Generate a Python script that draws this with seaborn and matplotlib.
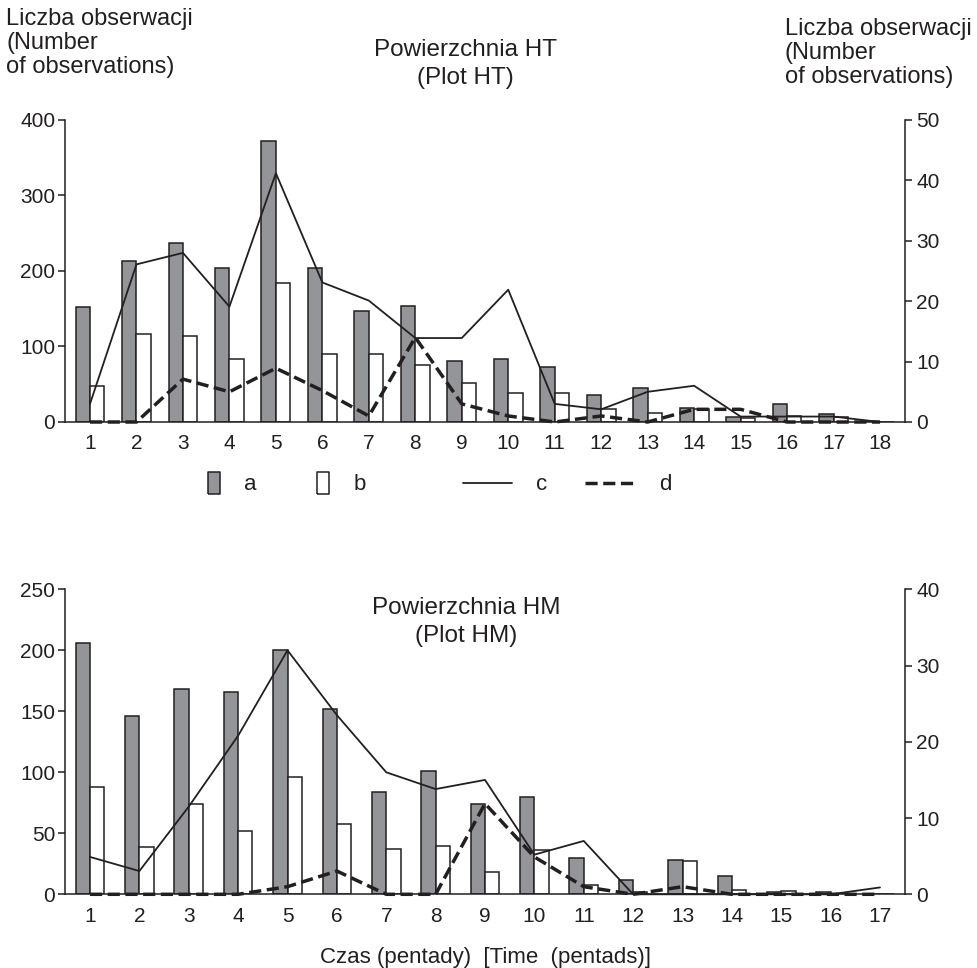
import pandas as pd
import matplotlib.pyplot as plt
import seaborn as sns
from matplotlib.lines import Line2D

# Powierzchnia HT (Plot HT) - pentads 1..18
ht_pentads = list(range(1, 19))
ht_a = [152, 213, 237, 204, 372, 204, 147, 154, 81, 83, 73, 36, 45, 19, 7, 24, 10, 0]
ht_b = [48, 116, 114, 83, 184, 90, 90, 76, 52, 38, 38, 17, 12, 17, 5, 8, 7, 0]
ht_c = [3.0, 26.1, 28.0, 19.1, 41.2, 23.1, 20.1, 13.9, 13.9, 21.9, 3.0, 2.1, 5.0, 6.0, 0.9, 0.9, 0.9, 0]
ht_d = [0, 0, 7.1, 5.0, 8.9, 5.2, 1.0, 14.0, 3.0, 1.0, 0, 1.0, 0, 2.1, 2.1, 0, 0, 0]

# Powierzchnia HM (Plot HM) - pentads 1..17
hm_pentads = list(range(1, 18))
hm_a = [206, 146, 168, 166, 200, 152, 84, 101, 74, 80, 30, 12, 28, 15, 1.6, 1.6, 0]
hm_b = [88, 38.5, 74, 52, 96, 58, 37, 40, 18, 36, 8, 1.6, 27, 3.5, 3.0, 0.5, 0]
hm_c = [4.9, 3.05, 11.5, 20.8, 32.0, 23.5, 16.0, 13.8, 15.0, 5.2, 7.0, 0, 0, 0, 0, 0, 0.9]
hm_d = [0, 0, 0, 0, 1.0, 3.05, 0, 0, 11.9, 4.9, 1.0, 0, 1.0, 0, 0, 0, 0]

GRAY = '#939598'
DARK = '#231f20'
DASH = (0, (3.5, 1.6))

sns.set_style('white')
plt.rcParams['font.family'] = ['Liberation Sans', 'DejaVu Sans']
plt.rcParams['text.color'] = DARK


def panel(ax, pentads, a, b, c, d, ymax, y2max, width):
    n = len(pentads)
    df = pd.DataFrame({'pentad': pentads * 2, 'count': a + b,
                       'series': ['a'] * n + ['b'] * n})
    sns.barplot(data=df, x='pentad', y='count', hue='series', native_scale=True,
                width=width, palette={'a': GRAY, 'b': 'white'}, saturation=1,
                edgecolor=DARK, linewidth=1.1, errorbar=None, legend=False, ax=ax)
    ax2 = ax.twinx()
    sns.lineplot(x=pentads, y=c, ax=ax2, color=DARK, linewidth=1.3, clip_on=False)
    sns.lineplot(x=pentads, y=d, ax=ax2, color=DARK, linewidth=2.5,
                 linestyle=DASH, clip_on=False)
    # first/last tick sit 25 px inside the 840 px wide axes
    step = 790 / (n - 1)
    ax.set_xlim(1 - 25 / step, n + 25 / step)
    ax.set_ylim(0, ymax)
    ax2.set_ylim(0, y2max)
    ax.set_xticks(pentads)
    ax.set_xlabel('')
    ax.set_ylabel('')
    ax2.set_ylabel('')
    for a_ in (ax, ax2):
        a_.spines['top'].set_visible(False)
        for s in a_.spines.values():
            s.set_color(DARK)
            s.set_linewidth(1.1)
    ax.spines['right'].set_visible(False)
    ax2.spines['left'].set_visible(False)
    ax2.spines['bottom'].set_visible(False)
    ax.tick_params(axis='x', length=0, pad=9, labelsize=15, colors=DARK)
    ax.tick_params(axis='y', left=True, length=5, width=1.1, pad=2,
                   labelsize=15, colors=DARK)
    ax2.tick_params(axis='y', right=True, length=5, width=1.1, pad=3,
                    labelsize=15, colors=DARK)
    return ax2


fig = plt.figure(figsize=(9.77, 9.68), dpi=100)
ax_top = fig.add_axes([65 / 977, 1 - 422 / 968, 840 / 977, 302 / 968])
ax_bot = fig.add_axes([65 / 977, 1 - 894.3 / 968, 840 / 977, 305 / 968])

top2 = panel(ax_top, ht_pentads, ht_a, ht_b, ht_c, ht_d, 400, 50, 0.62)
ax_top.set_yticks([0, 100, 200, 300, 400])
top2.set_yticks([0, 10, 20, 30, 40, 50])

bot2 = panel(ax_bot, hm_pentads, hm_a, hm_b, hm_c, hm_d, 250, 40, 0.58)
ax_bot.set_yticks([0, 50, 100, 150, 200, 250])
bot2.set_yticks([0, 10, 20, 30, 40])

ax_bot.set_xlabel('Czas (pentady)  [Time  (pentads)]', fontsize=16, labelpad=15,
                  color=DARK)

# titles and axis captions
fig.text(465 / 977, 1 - 64 / 968, 'Powierzchnia HT\n(Plot HT)', ha='center',
         va='center', fontsize=17.5, linespacing=1.4)
ax_bot.text(0.478, 0.893, 'Powierzchnia HM\n(Plot HM)', ha='center', va='center',
            fontsize=17.5, linespacing=1.4, transform=ax_bot.transAxes)
fig.text(6 / 977, 1 - 8 / 968, 'Liczba obserwacji\n(Number\nof observations)',
         ha='left', va='top', fontsize=17, linespacing=1.12)
fig.text(785 / 977, 1 - 18 / 968, 'Liczba obserwacji\n(Number\nof observations)',
         ha='left', va='top', fontsize=17, linespacing=1.12)

# legend
bar_marker = [(-0.52, -1), (0.52, -1), (0.52, 1), (-0.52, 1), (-0.52, -1)]
bar_handles = [Line2D([], [], linestyle='none', marker=bar_marker, markersize=16.5,
                      markerfacecolor=GRAY, markeredgecolor=DARK, markeredgewidth=1.1),
               Line2D([], [], linestyle='none', marker=bar_marker, markersize=16.5,
                      markerfacecolor='white', markeredgecolor=DARK, markeredgewidth=1.1)]
line_handles = [Line2D([], [], color=DARK, linewidth=1.3),
                Line2D([], [], color=DARK, linewidth=2.5, linestyle=DASH)]
fig.legend(bar_handles, ['a', 'b'], loc='center left',
           bbox_to_anchor=(203 / 977, 1 - 485 / 968), ncol=2, frameon=False,
           fontsize=16, handlelength=1.0, handletextpad=0.85,
           columnspacing=2.5, borderpad=0, borderaxespad=0, numpoints=1)
fig.legend(line_handles, ['c', 'd'], loc='center left',
           bbox_to_anchor=(463 / 977, 1 - 485 / 968), ncol=2, frameon=False,
           fontsize=16, handlelength=2.2, handletextpad=1.1,
           columnspacing=1.7, borderpad=0, borderaxespad=0)

fig.savefig('out.png', dpi=100)
